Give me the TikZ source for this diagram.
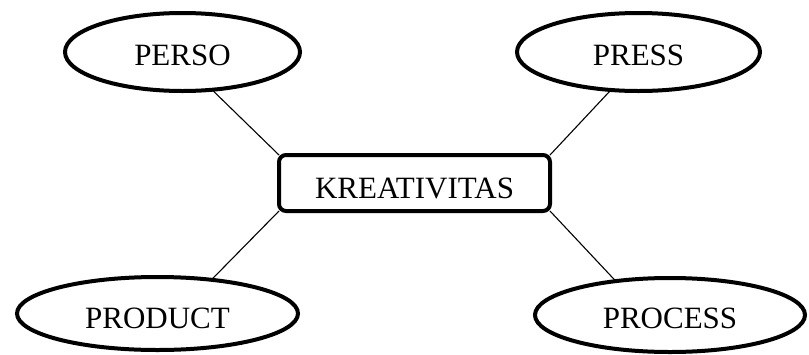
\documentclass[tikz,border=0pt]{standalone}
\usepackage{fontspec}
\setmainfont{Liberation Serif}
\usetikzlibrary{shapes.geometric}
\begin{document}
\begin{tikzpicture}[x=1pt,y=-1pt,
  oval/.style={draw, ellipse, line width=4pt, inner sep=0pt, outer sep=0pt,
    text depth=0pt, font=\fontsize{31}{37}\selectfont},
  mainbox/.style={draw, rectangle, rounded corners=7pt, line width=4pt,
    inner sep=0pt, outer sep=0pt, minimum width=271pt, minimum height=56pt,
    text height=30pt, text depth=0pt, font=\fontsize{31}{37}\selectfont},
  link/.style={line width=1.1pt}]
\useasboundingbox (0,0) rectangle (809,354);
\node[mainbox] (k) at (414.5,183) {KREATIVITAS};
\node[oval, minimum width=235pt, minimum height=78pt, text height=26pt] (perso) at (182.5,52) {PERSO};
\node[oval, minimum width=243pt, minimum height=78pt, text height=26pt] (press) at (638.5,52) {PRESS};
\node[oval, minimum width=281pt, minimum height=73pt, text height=29pt] (product) at (157.5,313.5) {PRODUCT};
\node[oval, minimum width=270pt, minimum height=74pt, text height=26pt] (process) at (670,315) {PROCESS};
\draw[link] (k.north west) -- (perso.-52);
\draw[link] (k.north east) -- (press.-126);
\draw[link] (k.south west) -- (product.32);
\draw[link] (k.south east) -- (process.148);
\end{tikzpicture}
\end{document}
